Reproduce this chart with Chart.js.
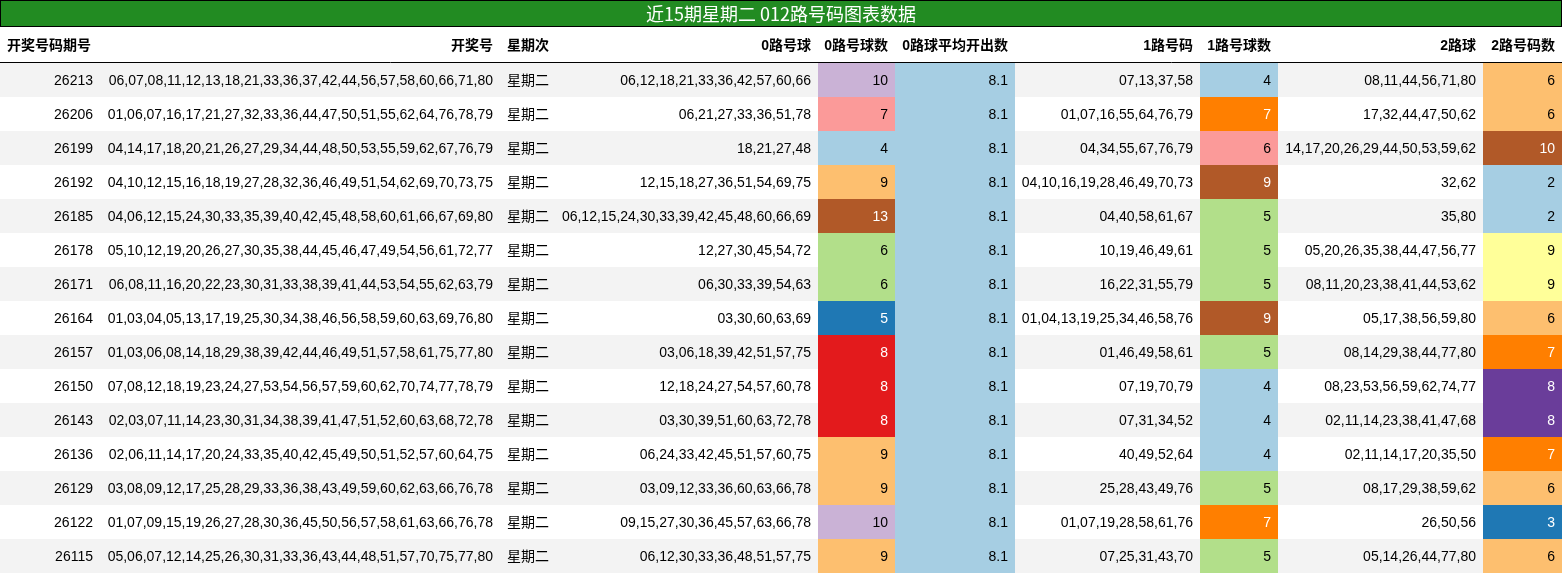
<!DOCTYPE html>
<html>
<head>
<meta charset="utf-8">
<script src="https://cdn.jsdelivr.net/npm/chart.js@4"></script>
<style>
  html, body { margin: 0; padding: 0; background: #fff; }
  #wrap { width: 1562px; height: 574px; position: relative; }
</style>
</head>
<body>
<div id="wrap"><canvas id="myChart"></canvas></div>
<script>
const title = "近15期星期二 012路号码图表数据";
const headers = ["开奖号码期号", "开奖号", "星期次", "0路号球", "0路号球数", "0路球平均开出数", "1路号码", "1路号球数", "2路球", "2路号码数"];
const periods = ["26213", "26206", "26199", "26192", "26185", "26178", "26171", "26164", "26157", "26150", "26143", "26136", "26129", "26122", "26115"];
const draws = [
  "06,07,08,11,12,13,18,21,33,36,37,42,44,56,57,58,60,66,71,80",
  "01,06,07,16,17,21,27,32,33,36,44,47,50,51,55,62,64,76,78,79",
  "04,14,17,18,20,21,26,27,29,34,44,48,50,53,55,59,62,67,76,79",
  "04,10,12,15,16,18,19,27,28,32,36,46,49,51,54,62,69,70,73,75",
  "04,06,12,15,24,30,33,35,39,40,42,45,48,58,60,61,66,67,69,80",
  "05,10,12,19,20,26,27,30,35,38,44,45,46,47,49,54,56,61,72,77",
  "06,08,11,16,20,22,23,30,31,33,38,39,41,44,53,54,55,62,63,79",
  "01,03,04,05,13,17,19,25,30,34,38,46,56,58,59,60,63,69,76,80",
  "01,03,06,08,14,18,29,38,39,42,44,46,49,51,57,58,61,75,77,80",
  "07,08,12,18,19,23,24,27,53,54,56,57,59,60,62,70,74,77,78,79",
  "02,03,07,11,14,23,30,31,34,38,39,41,47,51,52,60,63,68,72,78",
  "02,06,11,14,17,20,24,33,35,40,42,45,49,50,51,52,57,60,64,75",
  "03,08,09,12,17,25,28,29,33,36,38,43,49,59,60,62,63,66,76,78",
  "01,07,09,15,19,26,27,28,30,36,45,50,56,57,58,61,63,66,76,78",
  "05,06,07,12,14,25,26,30,31,33,36,43,44,48,51,57,70,75,77,80"
];
const weekday = "星期二";
const road0 = [
  "06,12,18,21,33,36,42,57,60,66", "06,21,27,33,36,51,78", "18,21,27,48", "12,15,18,27,36,51,54,69,75",
  "06,12,15,24,30,33,39,42,45,48,60,66,69", "12,27,30,45,54,72", "06,30,33,39,54,63", "03,30,60,63,69",
  "03,06,18,39,42,51,57,75", "12,18,24,27,54,57,60,78", "03,30,39,51,60,63,72,78", "06,24,33,42,45,51,57,60,75",
  "03,09,12,33,36,60,63,66,78", "09,15,27,30,36,45,57,63,66,78", "06,12,30,33,36,48,51,57,75"
];
const road0Count = [10, 7, 4, 9, 13, 6, 6, 5, 8, 8, 8, 9, 9, 10, 9];
const road0Avg = [8.1, 8.1, 8.1, 8.1, 8.1, 8.1, 8.1, 8.1, 8.1, 8.1, 8.1, 8.1, 8.1, 8.1, 8.1];
const road1 = [
  "07,13,37,58", "01,07,16,55,64,76,79", "04,34,55,67,76,79", "04,10,16,19,28,46,49,70,73",
  "04,40,58,61,67", "10,19,46,49,61", "16,22,31,55,79", "01,04,13,19,25,34,46,58,76",
  "01,46,49,58,61", "07,19,70,79", "07,31,34,52", "40,49,52,64",
  "25,28,43,49,76", "01,07,19,28,58,61,76", "07,25,31,43,70"
];
const road1Count = [4, 7, 6, 9, 5, 5, 5, 9, 5, 4, 4, 4, 5, 7, 5];
const road2 = [
  "08,11,44,56,71,80", "17,32,44,47,50,62", "14,17,20,26,29,44,50,53,59,62", "32,62",
  "35,80", "05,20,26,35,38,44,47,56,77", "08,11,20,23,38,41,44,53,62", "05,17,38,56,59,80",
  "08,14,29,38,44,77,80", "08,23,53,56,59,62,74,77", "02,11,14,23,38,41,47,68", "02,11,14,17,20,35,50",
  "08,17,29,38,59,62", "26,50,56", "05,14,26,44,77,80"
];
const road2Count = [6, 6, 10, 2, 2, 9, 9, 6, 7, 8, 8, 7, 6, 3, 6];

const paired = ["#a6cee3", "#1f78b4", "#b2df8a", "#33a02c", "#fb9a99", "#e31a1c",
  "#fdbf6f", "#ff7f00", "#cab2d6", "#6a3d9a", "#ffff99", "#b15928"];
const darkText = { "#1f78b4": 1, "#33a02c": 1, "#e31a1c": 1, "#ff7f00": 1, "#6a3d9a": 1, "#b15928": 1 };

// column edges in x-scale units, plus text alignment
const cols = [
  { x0: 0, x1: 100, align: "right", hAlign: "left" },
  { x0: 100, x1: 500, align: "right", hAlign: "right" },
  { x0: 500, x1: 555, align: "left", hAlign: "left" },
  { x0: 555, x1: 818, align: "right", hAlign: "right" },
  { x0: 818, x1: 895, align: "right", hAlign: "right", color: road0Count },
  { x0: 895, x1: 1015, align: "right", hAlign: "right", color: road0Avg },
  { x0: 1015, x1: 1200, align: "right", hAlign: "right" },
  { x0: 1200, x1: 1278, align: "right", hAlign: "right", color: road1Count },
  { x0: 1278, x1: 1483, align: "right", hAlign: "right" },
  { x0: 1483, x1: 1562, align: "right", hAlign: "right", color: road2Count }
];
const columnsData = [periods, draws, periods.map(() => weekday), road0, road0Count, road0Avg.map(v => v.toFixed(1)), road1, road1Count, road2, road2Count];

function cellColor(series, v) {
  const mn = Math.min.apply(null, series), mx = Math.max.apply(null, series);
  if (mx === mn) return paired[0];
  const idx = Math.min(11, Math.floor((v - mn) / (mx - mn) * 12));
  return paired[idx];
}

function fitText(ctx, text, x, y, maxW) {
  const w = ctx.measureText(text).width;
  if (w <= maxW) { ctx.fillText(text, x, y); return; }
  ctx.save();
  const s = maxW / w;
  ctx.translate(x, y);
  ctx.scale(s, 1);
  ctx.fillText(text, 0, 0);
  ctx.restore();
}

const tablePlugin = {
  id: "table",
  afterDraw(chart) {
    const ctx = chart.ctx, xs = chart.scales.x, ys = chart.scales.y;
    const top = chart.chartArea.top;
    const px = v => xs.getPixelForValue(v);
    ctx.save();
    // title bar
    ctx.fillStyle = "#228b22";
    ctx.fillRect(px(0), 0, px(1562) - px(0), 27);
    ctx.strokeStyle = "#000";
    ctx.lineWidth = 1;
    ctx.strokeRect(px(0) + 0.5, 0.5, px(1562) - px(0) - 1, 26);
    ctx.fillStyle = "#fff";
    ctx.font = "18px 'Noto Sans CJK SC', 'Liberation Sans', sans-serif";
    ctx.textAlign = "center";
    ctx.textBaseline = "middle";
    ctx.fillText(title, px(781), 14);
    // header
    ctx.fillStyle = "#000";
    ctx.font = "bold 14px 'Liberation Sans', 'Noto Sans CJK SC', sans-serif";
    headers.forEach((h, c) => {
      const col = cols[c];
      ctx.textAlign = col.hAlign;
      const x = col.hAlign === "right" ? px(col.x1) - 7 : px(col.x0) + 7;
      ctx.fillText(h, x, (27 + top) / 2 + 1);
    });
    ctx.beginPath();
    ctx.moveTo(px(0), top - 0.5);
    ctx.lineTo(px(1562), top - 0.5);
    ctx.stroke();
    // rows
    ctx.font = "14px 'Liberation Sans', 'Noto Sans CJK SC', sans-serif";
    periods.forEach((p, r) => {
      const y0 = ys.getPixelForValue(r), y1 = ys.getPixelForValue(r + 1);
      ctx.fillStyle = r % 2 === 0 ? "#f3f3f3" : "#ffffff";
      ctx.fillRect(px(0), y0, px(1562) - px(0), y1 - y0);
      cols.forEach((col, c) => {
        const x0 = px(col.x0), x1 = px(col.x1);
        let txtColor = "#000";
        if (col.color) {
          const bg = cellColor(col.color, col.color[r]);
          ctx.fillStyle = bg;
          ctx.fillRect(x0, y0, x1 - x0, y1 - y0);
          if (darkText[bg]) txtColor = "#fff";
        }
        ctx.fillStyle = txtColor;
        ctx.textAlign = col.align;
        const x = col.align === "right" ? x1 - 7 : x0 + 7;
        fitText(ctx, String(columnsData[c][r]), x, (y0 + y1) / 2 + 1, x1 - x0 - 10);
      });
    });
    ctx.restore();
  }
};

document.addEventListener("DOMContentLoaded", function () {
  const ctx = document.getElementById("myChart").getContext("2d");
  new Chart(ctx, {
    type: "scatter",
    data: { datasets: [{ data: [] }] },
    options: {
      responsive: true,
      maintainAspectRatio: false,
      animation: false,
      layout: { padding: { top: 63, left: 0, right: 0, bottom: 1 } },
      plugins: { legend: { display: false }, tooltip: { enabled: false } },
      scales: {
        x: { type: "linear", min: 0, max: 1562, display: false },
        y: { type: "linear", min: 0, max: 15, reverse: true, display: false }
      }
    },
    plugins: [tablePlugin]
  });
});
</script>
</body>
</html>
